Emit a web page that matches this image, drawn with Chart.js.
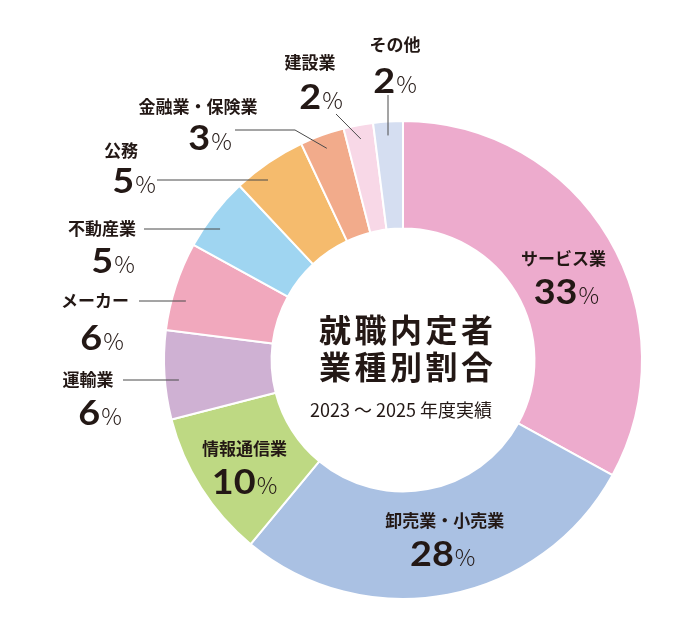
<!DOCTYPE html>
<html><head><meta charset="utf-8">
<script src="https://cdn.jsdelivr.net/npm/chart.js@4"></script>
<style>html,body{margin:0;padding:0;background:#fff}canvas{display:block}</style>
</head><body>
<canvas id="c" width="680" height="635"></canvas>
<script>
const categories = ['サービス業','卸売業・小売業','情報通信業','運輸業','メーカー','不動産業','公務','金融業・保険業','建設業','その他'];
const shares = [33,28,10,6,6,5,5,3,2,2];
const sliceColors = ['#EDABCD','#AAC1E3','#BED983','#CFB1D3','#F1A8BD','#9FD5F1','#F5BB6D','#F2AB8B','#F8D8E7','#D5DEF1'];
const titleLines = ['就職内定者','業種別割合'];
const subtitle = '2023 ～ 2025 年度実績';

const INK = '#231815';
// label layout (annotation positions only)
const layout = [
  {inside:true, dx:1, dy:-7, ndx:3},
  {inside:true, dx:7, dy:-21, ndx:-2},
  {inside:true, dx:-2, dy:-11, ndx:0},
  {nx:88, ny:380, vx:100, vy:412, line:[[123,380]], ly:380},
  {nx:95, ny:301, vx:102, vy:337, line:[[139,301]], ly:301},
  {nx:102, ny:229, vx:113, vy:260, line:[[144,229]], ly:229},
  {nx:121, ny:151, vx:134, vy:180, line:[[157,180]], ly:180},
  {nx:198, ny:107, vx:210, vy:137, line:[[235,130],[295,130]], ang:true},
  {nx:310, ny:63, vx:321, vy:96, line:[[336,114]], ang:true},
  {nx:395, ny:45, vx:395, vy:80, line:[[388,95]], ang:true, vert:true}
];

const NUM_FONT = 'bold 35px Lato';
const PCT_FONT = '300 23px "Noto Sans CJK JP"';
const SX = 1.08;
function drawValue(ctx, cx, cy, v){
  const num = String(v);
  ctx.font = NUM_FONT;
  const w1 = ctx.measureText(num).width * SX;
  ctx.font = PCT_FONT;
  const w2 = ctx.measureText('%').width;
  const gap = 1;
  const x0 = cx - (w1+gap+w2)/2;
  ctx.textBaseline = 'alphabetic';
  ctx.textAlign = 'left';
  ctx.fillStyle = INK;
  ctx.save();
  ctx.translate(x0, cy + 12.5);
  ctx.scale(SX, 1);
  ctx.font = NUM_FONT;
  ctx.fillText(num, 0, 0);
  ctx.restore();
  ctx.font = PCT_FONT;
  ctx.fillText('%', x0 + w1 + gap, cy + 12.5);
}
function drawName(ctx, cx, cy, s){
  ctx.font = 'bold 17px "Noto Sans CJK JP"';
  ctx.textAlign = 'center';
  ctx.textBaseline = 'middle';
  ctx.fillStyle = INK;
  ctx.fillText(s, cx, cy);
}

const labelPlugin = {
  id: 'labels',
  afterDatasetsDraw(chart){
    const ctx = chart.ctx;
    const meta = chart.getDatasetMeta(0);
    ctx.save();
    meta.data.forEach((arc, i) => {
      const L = layout[i];
      const {x: cx, y: cy, startAngle, endAngle, outerRadius} = arc.getProps(['x','y','startAngle','endAngle','outerRadius'], true);
      if (L.inside){
        const p = arc.tooltipPosition(true);
        drawName(ctx, p.x + L.dx, p.y + L.dy, categories[i]);
        drawValue(ctx, p.x + L.dx + L.ndx, p.y + L.dy + 33, shares[i]);
        return;
      }
      drawName(ctx, L.nx, L.ny, categories[i]);
      drawValue(ctx, L.vx, L.vy, shares[i]);
      // leader line end inside the arc
      const r = outerRadius - 14;
      let ex, ey;
      if (L.ang){
        const mid = (startAngle + endAngle)/2;
        ex = cx + r*Math.cos(mid); ey = cy + r*Math.sin(mid);
        if (L.vert){ ex = L.line[0][0]; }
      } else {
        ey = L.ly;
        ex = cx - Math.sqrt(Math.max(r*r - (ey-cy)*(ey-cy),0));
      }
      ctx.strokeStyle = '#4a4a4a';
      ctx.lineWidth = 1;
      ctx.beginPath();
      ctx.moveTo(L.line[0][0], L.line[0][1]);
      for (let k=1;k<L.line.length;k++) ctx.lineTo(L.line[k][0], L.line[k][1]);
      ctx.lineTo(ex, ey);
      ctx.stroke();
    });
    // center title
    const c = meta.data[0];
    const X = c.x, Y = c.y;
    ctx.fillStyle = INK;
    ctx.textBaseline = 'middle';
    ctx.font = 'bold 32px "Noto Sans CJK JP"';
    titleLines.forEach((t, li) => {
      const chars = [...t];
      const step = 35.5;
      const start = X + 3 - (step*(chars.length-1))/2;
      ctx.textAlign = 'center';
      chars.forEach((ch, k) => ctx.fillText(ch, start + k*step, Y - 30 + li*37));
    });
    ctx.font = '18px "Noto Sans CJK JP"';
    ctx.textAlign = 'center';
    ctx.fillText(subtitle, X - 2, Y + 50);
    ctx.restore();
  }
};

new Chart(document.getElementById('c'), {
  type: 'doughnut',
  data: {
    labels: categories,
    datasets: [{
      data: shares,
      backgroundColor: sliceColors,
      borderColor: '#ffffff',
      borderWidth: 2,
      hoverOffset: 0
    }]
  },
  options: {
    responsive: false,
    animation: false,
    cutout: '55%',
    layout: {padding: {left: 163, right: 37, top: 120, bottom: 35}},
    plugins: {legend: {display: false}, tooltip: {enabled: false}},
    events: []
  },
  plugins: [labelPlugin]
});
</script>
</body></html>
